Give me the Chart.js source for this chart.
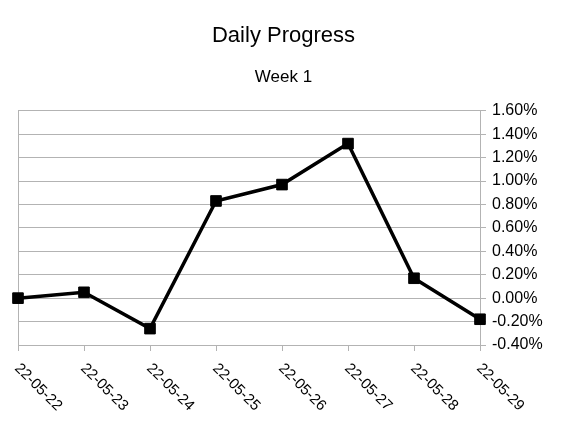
<!DOCTYPE html>
<html>
<head>
<meta charset="utf-8">
<script src="https://cdn.jsdelivr.net/npm/chart.js@4/dist/chart.umd.min.js"></script>
<style>
  html, body { margin: 0; padding: 0; background: #fff; }
  canvas { display: block; }
</style>
</head>
<body>
<canvas id="chart" width="567" height="426"></canvas>
<script>
// Dados
const dias = ['22-05-22', '22-05-23', '22-05-24', '22-05-25', '22-05-26', '22-05-27', '22-05-28', '22-05-29'];
const progresso = [0.00, 0.05, -0.26, 0.83, 0.97, 1.32, 0.17, -0.18]; // %
const yMin = -0.4;
const yMax = 1.6;
const yPasso = 0.2;

const cinza = '#b3b3b3';
const fonte = "'Liberation Sans', Arial, sans-serif";

// Rótulos do eixo x inclinados (de cima-esquerda para baixo-direita)
const rotulosInclinados = {
  id: 'rotulosInclinados',
  afterDraw(chart) {
    const x = chart.scales.x;
    const ctx = chart.ctx;
    ctx.save();
    ctx.font = '15px ' + fonte;
    ctx.fillStyle = '#000';
    ctx.textAlign = 'left';
    ctx.textBaseline = 'middle';
    chart.data.labels.forEach((lbl, i) => {
      const px = x.getPixelForTick(i);
      ctx.save();
      ctx.translate(px - 1, x.top + 21);
      ctx.rotate(Math.PI / 4);
      ctx.fillText(lbl, 0, 0);
      ctx.restore();
    });
    ctx.restore();
  }
};

new Chart(document.getElementById('chart'), {
  type: 'line',
  data: {
    labels: dias,
    datasets: [{
      data: progresso,
      borderColor: '#000',
      borderWidth: 3.5,
      tension: 0,
      pointStyle: 'rect',
      pointRadius: 7.5,
      pointBackgroundColor: '#000',
      pointBorderColor: '#000',
      pointBorderWidth: 1
    }]
  },
  options: {
    responsive: false,
    animation: false,
    layout: { padding: { left: 18, right: 18, top: 0, bottom: 0 } },
    scales: {
      x: {
        offset: false,
        afterFit: s => { s.height = 81; },
        ticks: { display: false },
        border: { color: cinza },
        grid: {
          color: c => (c.index === 0 || c.index === dias.length - 1) ? cinza : 'rgba(0,0,0,0)',
          tickColor: cinza,
          tickLength: 6
        }
      },
      y: {
        position: 'right',
        min: yMin,
        max: yMax,
        afterFit: s => { s.width = 69; },
        border: { color: cinza },
        grid: { color: cinza, tickColor: cinza, tickLength: 6 },
        ticks: {
          stepSize: yPasso,
          padding: 6,
          color: '#000',
          font: { family: fonte, size: 16 },
          callback: v => (Math.abs(v) < 1e-9 ? 0 : v).toFixed(2) + '%'
        }
      }
    },
    plugins: {
      legend: { display: false },
      tooltip: { enabled: false },
      title: {
        display: true,
        text: 'Daily Progress',
        color: '#000',
        font: { family: fonte, size: 22, weight: 'normal' },
        padding: { top: 23, bottom: 0 }
      },
      subtitle: {
        display: true,
        text: 'Week 1',
        color: '#000',
        font: { family: fonte, size: 17, weight: 'normal' },
        padding: { top: 18, bottom: 23 }
      }
    }
  },
  plugins: [rotulosInclinados]
});
</script>
</body>
</html>
